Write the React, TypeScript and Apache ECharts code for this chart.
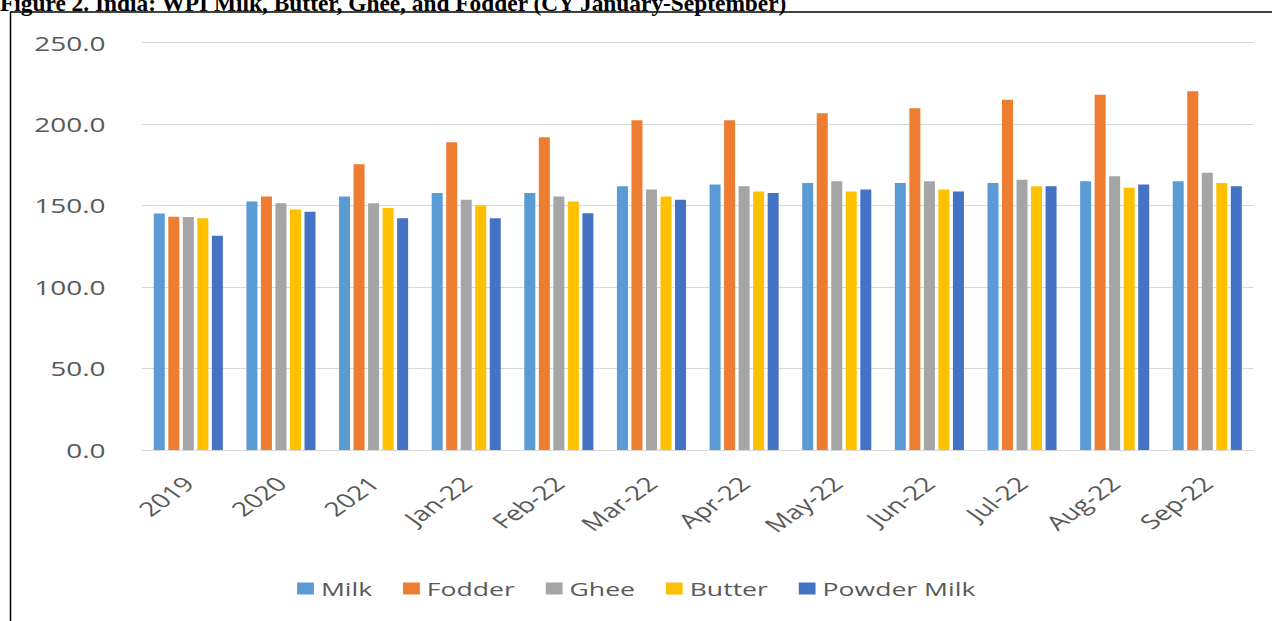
import React, { useEffect, useRef } from "react";
import * as echarts from "echarts";

// horizontal stretch of the embedded chart picture
const S = 1.4;
const W = 1272;
const H = 621;
const CW = W / S;

const titleText = "Figure 2. India: WPI Milk, Butter, Ghee, and Fodder (CY January-September)";
const categories = ["2019", "2020", "2021", "Jan-22", "Feb-22", "Mar-22", "Apr-22", "May-22", "Jun-22", "Jul-22", "Aug-22", "Sep-22"];
const seriesNames = ["Milk", "Fodder", "Ghee", "Butter", "Powder Milk"];
const milk = [145.2, 152.6, 155.6, 157.7, 157.7, 161.9, 162.9, 163.9, 163.9, 163.9, 164.9, 164.9];
const fodder = [143.1, 155.6, 175.4, 188.9, 191.9, 202.4, 202.4, 206.7, 209.7, 215.0, 218.0, 220.2];
const ghee = [143.0, 151.4, 151.4, 153.6, 155.6, 159.9, 161.9, 164.9, 164.9, 165.9, 168.1, 170.2];
const butter = [142.3, 147.6, 148.6, 150.0, 152.6, 155.6, 158.7, 158.7, 159.9, 161.9, 160.9, 163.9];
const powderMilk = [131.5, 146.2, 142.3, 142.3, 145.3, 153.6, 157.7, 159.9, 158.7, 161.9, 162.9, 161.9];
const colors = ["#5B9BD5", "#ED7D31", "#A5A5A5", "#FFC000", "#4472C4"];
const yTicks = { min: 0, max: 250, interval: 50 };

export default function App() {
  const ref = useRef<HTMLDivElement>(null);
  useEffect(() => {
    if (!ref.current) return;
    const chart = echarts.init(ref.current, undefined, { renderer: "svg" });
    const values = [milk, fodder, ghee, butter, powderMilk];
    const font = "'Open Sans', 'DejaVu Sans', sans-serif";
    chart.setOption({
      animation: false,
      color: colors,
      textStyle: { fontFamily: font },
      grid: { left: 142 / S, right: 19 / S, top: 42.7, bottom: H - 450 },
      legend: {
        data: seriesNames,
        left: "center",
        top: 574,
        itemWidth: 12,
        itemHeight: 12,
        itemGap: 22,
        icon: "rect",
        textStyle: { fontSize: 19, color: "#595959", fontFamily: font },
      },
      xAxis: {
        type: "category",
        data: categories,
        axisLine: { lineStyle: { color: "#D9D9D9", width: 1 } },
        axisTick: { show: false },
        axisLabel: { rotate: 45, fontSize: 20, color: "#595959", margin: 30, interval: 0 },
      },
      yAxis: {
        type: "value",
        min: yTicks.min,
        max: yTicks.max,
        interval: yTicks.interval,
        axisLine: { show: false },
        axisTick: { show: false },
        splitLine: { lineStyle: { color: "#D9D9D9", width: 1 } },
        axisLabel: {
          fontSize: 20,
          color: "#595959",
          margin: 26,
          formatter: (v: number) => v.toFixed(1),
        },
      },
      series: seriesNames.map((name, i) => ({
        name,
        type: "bar",
        data: values[i],
        barWidth: 11 / S,
        barGap: "32%",
      })),
      graphic: [
        {
          type: "text",
          x: 0,
          y: 14,
          scaleX: 1 / S,
          z: 10,
          style: {
            text: titleText,
            font: "bold 23.4px 'Liberation Serif', serif",
            fill: "#000",
            verticalAlign: "bottom",
            align: "left",
          },
        },
        {
          type: "line",
          shape: { x1: 10 / S, y1: 12, x2: CW + 2, y2: 12 },
          style: { stroke: "#000", lineWidth: 1.5 },
        },
        {
          type: "line",
          shape: { x1: 10.5 / S, y1: 12, x2: 10.5 / S, y2: H + 2 },
          style: { stroke: "#000", lineWidth: 1.5 / S },
        },
      ],
    });
    return () => chart.dispose();
  }, []);
  return (
    <div
      ref={ref}
      style={{
        position: "absolute",
        left: 0,
        top: 0,
        width: CW,
        height: H,
        transform: `scaleX(${S})`,
        transformOrigin: "0 0",
        background: "#fff",
      }}
    />
  );
}
